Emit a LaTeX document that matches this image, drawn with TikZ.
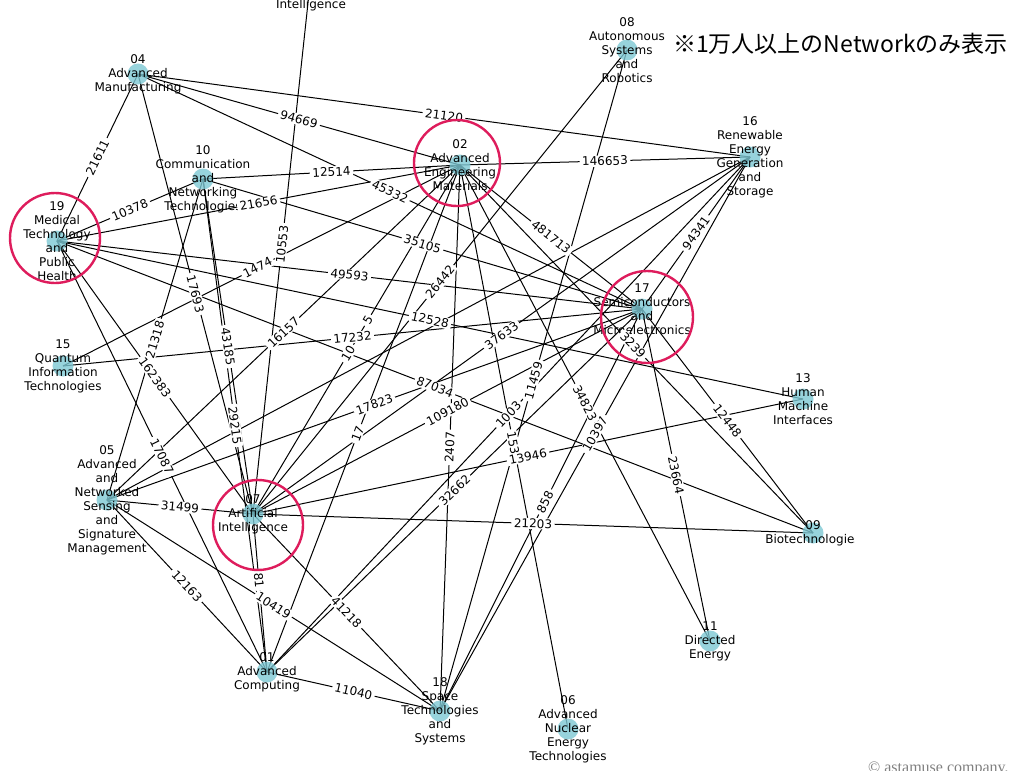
\documentclass[tikz,border=0pt]{standalone}
\usepackage{fontspec}
\newfontfamily\djv{DejaVu Sans}
\newfontfamily\jpf{Noto Sans CJK JP}
\newfontfamily\cserif{Liberation Serif}
\definecolor{dotc}{RGB}{125,200,212}
\definecolor{ringc}{RGB}{222,28,92}
\tikzset{
  dot/.style={circle,fill=dotc,fill opacity=0.8,minimum size=21pt,inner sep=0pt},
  ntext/.style={align=center,font=\djv\fontsize{12}{14}\selectfont,inner sep=0pt,text=black},
  elab/.style={sloped,fill=white,rounded corners=2pt,inner xsep=2.5pt,inner ysep=1pt,font=\djv\fontsize{12}{14}\selectfont},
  edgeline/.style={line width=1pt,black},
  ring/.style={draw=ringc,line width=2.4pt},
}
\begin{document}
\begin{tikzpicture}[x=1pt,y=-1pt]
\useasboundingbox (0,0) rectangle (1012,771);
\clip (0,0) rectangle (1012,771);
\fill[white] (0,0) rectangle (1012,771);
% node positions
\coordinate (n01) at (267,672);
\coordinate (n02) at (460,165);
\coordinate (n04) at (138,74);
\coordinate (n05) at (107,500);
\coordinate (n06) at (568,729);
\coordinate (n07) at (253,514);
\coordinate (n08) at (627,50);
\coordinate (n09) at (813,533);
\coordinate (n10) at (203,179);
\coordinate (n11) at (710,641);
\coordinate (n13) at (803,399);
\coordinate (n15) at (63,366);
\coordinate (n16) at (750,157);
\coordinate (n17) at (642,309);
\coordinate (n18) at (440,711);
\coordinate (n19) at (57,241);
\coordinate (nIn) at (311,-25);
% connectors
\foreach \a/\b in {04/19,04/02,04/16,04/17,04/07,10/19,10/02,10/17,10/05,10/07,10/01,
  19/02,19/17,19/13,19/09,19/07,19/01,02/16,02/17,16/17,15/02,15/17,In/07,
  05/02,05/07,05/17,05/16,05/01,05/18,07/08,07/02,07/16,07/17,07/13,07/09,07/18,07/01,
  01/02,01/16,01/17,01/18,18/08,18/16,18/17,02/18,02/06,02/11,02/09,17/09,17/11}
  \draw[edgeline] (n\a) -- (n\b);
% dots
\foreach \n in {01,02,04,05,06,07,08,09,10,11,13,15,16,17,18,19,In}
  \node[dot] (d\n) at (n\n) {};
% node texts
\node[ntext] (t01) at (n01) {01\\Advanced\\Computing};
\node[ntext] (t02) at (n02) {02\\Advanced\\Engineering\\Materials};
\node[ntext] (t04) at (n04) {04\\Advanced\\Manufacturing};
\node[ntext] (t05) at (n05) {05\\Advanced\\and\\Networked\\Sensing\\and\\Signature\\Management};
\node[ntext] (t06) at (n06) {06\\Advanced\\Nuclear\\Energy\\Technologies};
\node[ntext] (t07) at (n07) {07\\Artificial\\Intelligence};
\node[ntext] (t08) at (n08) {08\\Autonomous\\Systems\\and\\Robotics};
\begin{scope}
\clip (0,0) rectangle (854,771);
\node[ntext] (t09) at (n09) {09\\Biotechnologies};
\end{scope}
\node[ntext] (t10) at (n10) {10\\Communication\\and\\Networking\\Technologies};
\node[ntext] (t11) at (n11) {11\\Directed\\Energy};
\node[ntext] (t13) at (n13) {13\\Human\\Machine\\Interfaces};
\node[ntext] (t15) at (n15) {15\\Quantum\\Information\\Technologies};
\node[ntext] (t16) at (n16) {16\\Renewable\\Energy\\Generation\\and\\Storage};
\node[ntext] (t17) at (n17) {17\\Semiconductors\\and\\Microelectronics};
\node[ntext] (t18) at (n18) {18\\Space\\Technologies\\and\\Systems};
\node[ntext] (t19) at (n19) {19\\Medical\\Technology\\and\\Public\\Health};
\node[ntext,anchor=base] (tIn) at (311,9) {Intelligence};
% partly hidden edge labels
\path (n15) -- node[elab,pos=0.49] {1474} (n02);
\path (n07) -- node[elab,pos=0.46] {10} node[elab,pos=0.555] {5} (n02);
\path (n01) -- node[elab,pos=0.47] {17} (n02);
\path (n01) -- node[elab,pos=0.5] {1003} (n16);
\path (n18) -- node[elab,pos=0.52] {858} (n17);
\path (n02) -- node[elab,pos=0.517] {2407} (n18);
\path (n02) -- node[elab,pos=0.493] {153} (n06);
\path (n07) -- node[elab,pos=0.42] {81} (n01);
\path (n02) -- node[elab,pos=0.49] {3239} (n09);
% edge labels
\foreach \a/\b/\l in {04/19/21611,04/02/94669,04/16/21120,04/17/45332,04/07/17693,
  10/19/10378,10/02/12514,10/17/35105,10/05/21318,10/07/43185,10/01/29215,
  19/02/21656,19/17/49593,19/13/12528,19/09/87034,19/07/162383,19/01/17087,
  02/16/146653,02/17/481713,16/17/94341,15/17/17232,In/07/10553,
  05/02/16157,05/07/31499,05/17/17823,05/01/12163,05/18/10419,
  07/08/26442,07/16/37633,07/17/109180,07/13/13946,07/09/21203,07/18/41218,
  01/17/32662,01/18/11040,18/08/11459,18/16/10397,02/11/34823,17/09/12448,17/11/23664}
  \path (n\a) -- node[elab] {\l} (n\b);
% highlight rings
\draw[ring] (55,238) circle[radius=45];
\draw[ring] (457,163) circle[radius=43];
\draw[ring] (647,317) circle[radius=46];
\draw[ring] (258,525) circle[radius=45];
% title and credit
\node[anchor=west,inner sep=0pt,font=\jpf\fontsize{23}{26}\selectfont] (title) at (673,44) {※1万人以上のNetworkのみ表示};
\node[anchor=base west,inner sep=0pt,text=gray,font=\cserif\fontsize{16}{18}\selectfont] (credit) at (868,772) {© astamuse company,};
\end{tikzpicture}
\end{document}
